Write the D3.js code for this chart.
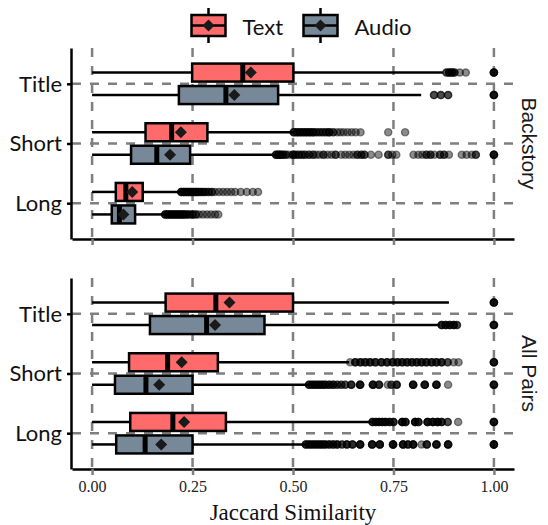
<!DOCTYPE html>
<html>
<head>
<meta charset="utf-8">
<script src="https://cdn.jsdelivr.net/npm/d3@7"></script>
<style>
    body { margin: 0; background: #fff; }
    .cat-label { font-family: Lato, "Noto Sans", sans-serif; font-size: 22px; fill: #111; }
    .x-label { font-family: "Liberation Serif", serif; font-size: 16px; fill: #222; }
    .strip { font-family: "Liberation Sans", sans-serif; font-size: 21px; fill: #1a1a1a; }
</style>
</head>
<body>
<div id="chart"></div>
<script>
const facets = ['Backstory', 'All Pairs'];
const categories = ['Title', 'Short', 'Long'];
const groups = ['Text', 'Audio'];
const groupColors = ['#ff6b6b', '#778899'];
const xTicks = [0, 0.25, 0.5, 0.75, 1];

// box stats per category (Title, Short, Long): [lowerWhisker, q1, median, q3, upperWhisker, mean]
const backstoryText = [
    [0, 0.249, 0.375, 0.501, 0.873, 0.395],
    [0, 0.133, 0.198, 0.287, 0.500, 0.221],
    [0, 0.059, 0.084, 0.126, 0.219, 0.100]
];
const backstoryAudio = [
    [0, 0.216, 0.333, 0.463, 0.819, 0.354],
    [0, 0.097, 0.161, 0.244, 0.456, 0.194],
    [0, 0.049, 0.068, 0.107, 0.179, 0.078]
];
const allPairsText = [
    [0, 0.183, 0.308, 0.500, 0.888, 0.342],
    [0, 0.092, 0.188, 0.313, 0.640, 0.223],
    [0, 0.095, 0.201, 0.333, 0.696, 0.229]
];
const allPairsAudio = [
    [0, 0.144, 0.285, 0.429, 0.866, 0.306],
    [0, 0.057, 0.134, 0.250, 0.538, 0.167],
    [0, 0.060, 0.132, 0.250, 0.530, 0.172]
];

// outliers per category: [value, number of overlapping points]
const backstoryTextOut = [
    [[0.882, 2], [0.889, 3], [0.896, 3], [0.902, 2], [0.915, 1], [0.93, 1], [1, 4]],
    [[0.502, 3], [0.51, 3], [0.518, 3], [0.526, 3], [0.534, 3], [0.542, 3], [0.55, 3], [0.558, 2],
     [0.566, 2], [0.574, 2], [0.582, 2], [0.59, 3], [0.60, 2], [0.61, 1], [0.618, 1], [0.626, 1],
     [0.636, 1], [0.646, 1], [0.656, 1], [0.668, 1], [0.737, 1], [0.779, 1]],
    [[0.222, 3], [0.228, 3], [0.234, 3], [0.24, 3], [0.246, 3], [0.252, 3], [0.258, 3], [0.264, 3],
     [0.27, 2], [0.276, 2], [0.282, 2], [0.29, 2], [0.298, 2], [0.306, 1], [0.316, 1], [0.326, 1],
     [0.336, 1], [0.346, 1], [0.356, 1], [0.37, 1], [0.385, 1], [0.4, 1], [0.413, 1]]
];
const backstoryAudioOut = [
    [[0.851, 2], [0.868, 2], [0.886, 2], [1, 4]],
    [[0.458, 3], [0.464, 3], [0.47, 3], [0.476, 2], [0.482, 2], [0.49, 1], [0.5, 3], [0.506, 2],
     [0.514, 2], [0.522, 2], [0.53, 2], [0.54, 2], [0.55, 2], [0.558, 1], [0.566, 1], [0.576, 2],
     [0.586, 1], [0.596, 1], [0.606, 2], [0.62, 1], [0.63, 1], [0.64, 1], [0.65, 1], [0.66, 2],
     [0.67, 2], [0.678, 2], [0.694, 1], [0.713, 1], [0.737, 2], [0.747, 1], [0.757, 1], [0.8, 1],
     [0.812, 1], [0.822, 1], [0.832, 2], [0.842, 2], [0.852, 1], [0.866, 2], [0.876, 2], [0.888, 1],
     [0.92, 1], [0.932, 1], [0.945, 1], [0.955, 2], [1, 4]],
    [[0.182, 3], [0.188, 3], [0.194, 3], [0.2, 3], [0.206, 3], [0.212, 3], [0.218, 3], [0.224, 3],
     [0.23, 3], [0.236, 2], [0.242, 2], [0.25, 2], [0.258, 2], [0.266, 1], [0.276, 1], [0.286, 1],
     [0.296, 1], [0.306, 1], [0.314, 1]]
];
const allPairsTextOut = [
    [[1, 4]],
    [[0.642, 1], [0.655, 3], [0.668, 3], [0.68, 3], [0.692, 3], [0.705, 3], [0.72, 3], [0.734, 3],
     [0.748, 3], [0.76, 3], [0.772, 3], [0.784, 3], [0.796, 3], [0.808, 3], [0.82, 3], [0.832, 3],
     [0.845, 3], [0.857, 3], [0.87, 3], [0.885, 2], [0.9, 1], [0.912, 1], [1, 4]],
    [[0.698, 3], [0.706, 3], [0.714, 3], [0.722, 3], [0.73, 3], [0.74, 3], [0.75, 3], [0.772, 4],
     [0.78, 3], [0.804, 4], [0.812, 3], [0.835, 4], [0.848, 4], [0.86, 4], [0.87, 3], [0.885, 2],
     [0.911, 1], [1, 4]]
];
const allPairsAudioOut = [
    [[0.87, 3], [0.88, 3], [0.89, 3], [0.9, 3], [0.908, 2], [1, 4]],
    [[0.54, 3], [0.548, 3], [0.556, 3], [0.564, 3], [0.572, 3], [0.58, 3], [0.59, 3], [0.6, 3],
     [0.61, 2], [0.62, 2], [0.63, 2], [0.645, 3], [0.667, 4], [0.699, 4], [0.714, 3], [0.736, 1],
     [0.745, 2], [0.758, 3], [0.799, 4], [0.828, 4], [0.857, 4], [0.886, 1], [1, 4]],
    [[0.532, 3], [0.54, 3], [0.548, 3], [0.556, 3], [0.564, 3], [0.572, 3], [0.58, 3], [0.59, 3],
     [0.6, 3], [0.61, 3], [0.622, 2], [0.634, 3], [0.648, 3], [0.667, 4], [0.697, 4], [0.716, 4],
     [0.749, 4], [0.774, 4], [0.786, 3], [0.799, 4], [0.82, 1], [0.833, 3], [0.857, 4], [0.886, 4], [1, 4]]
];

const facetStats = [[backstoryText, backstoryAudio], [allPairsText, allPairsAudio]];
const facetOutliers = [[backstoryTextOut, backstoryAudioOut], [allPairsTextOut, allPairsAudioOut]];

const width = 548, height = 525;
const panelTops = [48, 278];
const panelHeight = 191;
const gridColor = '#7f7f7f';

const svg = d3.select('#chart').append('svg')
    .attr('width', width)
    .attr('height', height);

const x = d3.scaleLinear().domain([-0.05, 1.05]).range([72, 514]);
const dodge = d3.scaleBand().domain(groups).range([-22.5, 22.5]);
const color = d3.scaleOrdinal().domain(groups).range(groupColors);
const boxH = 18;
const diamond = 'M0,-6L6,0L0,6L-6,0Z';

facets.forEach((facet, fi) => {
    const top = panelTops[fi];
    const y = d3.scalePoint().domain(categories).range([top, top + panelHeight]).padding(0.6);
    const panel = svg.append('g').attr('class', 'panel');

    // dashed grid
    panel.selectAll('.vgrid')
        .data(xTicks)
        .join('line')
        .attr('x1', d => x(d)).attr('x2', d => x(d))
        .attr('y1', top).attr('y2', top + panelHeight)
        .attr('stroke', gridColor).attr('stroke-width', 2.5)
        .attr('stroke-dasharray', '9,9');
    panel.selectAll('.hgrid')
        .data(categories)
        .join('line')
        .attr('x1', x.range()[0]).attr('x2', x.range()[1])
        .attr('y1', d => y(d)).attr('y2', d => y(d))
        .attr('stroke', gridColor).attr('stroke-width', 2.5)
        .attr('stroke-dasharray', '9,9');

    // axes
    const xAxisG = panel.append('g')
        .attr('transform', `translate(0,${top + panelHeight})`)
        .call(d3.axisBottom(x).tickValues(xTicks).tickSize(6).tickSizeOuter(0).tickPadding(6)
            .tickFormat(fi === facets.length - 1 ? d3.format('.2f') : ''));
    xAxisG.select('.domain').attr('stroke', '#000').attr('stroke-width', 2.5);
    xAxisG.selectAll('.tick line').attr('stroke', gridColor).attr('stroke-width', 2.5);
    xAxisG.selectAll('.tick text').attr('class', 'x-label').attr('font-family', null).attr('font-size', null);

    const yAxisG = panel.append('g')
        .attr('transform', 'translate(71,0)')
        .call(d3.axisLeft(y).tickSize(4).tickSizeOuter(0).tickPadding(5));
    yAxisG.select('.domain').attr('stroke', '#000').attr('stroke-width', 2.5);
    yAxisG.selectAll('.tick line').attr('stroke', '#000').attr('stroke-width', 2.5);
    yAxisG.selectAll('.tick text').attr('class', 'cat-label')
        .attr('font-family', null).attr('font-size', null).attr('dy', '0.33em');

    // boxes
    groups.forEach((g, gi) => {
        const stats = facetStats[fi][gi];
        const outs = facetOutliers[fi][gi];
        categories.forEach((cat, ci) => {
            const s = stats[ci];
            const cy = y(cat) + dodge(g) + dodge.bandwidth() / 2;
            const bg = panel.append('g');

            bg.selectAll('.whisker')
                .data([[s[0], s[1]], [s[3], s[4]]])
                .join('line')
                .attr('x1', d => x(d[0])).attr('x2', d => x(d[1]))
                .attr('y1', cy).attr('y2', cy)
                .attr('stroke', '#000').attr('stroke-width', 2.5);

            bg.append('rect')
                .attr('x', x(s[1])).attr('y', cy - boxH / 2)
                .attr('width', x(s[3]) - x(s[1])).attr('height', boxH)
                .attr('fill', color(g))
                .attr('stroke', '#000').attr('stroke-width', 2.5);

            bg.append('line')
                .attr('x1', x(s[2])).attr('x2', x(s[2]))
                .attr('y1', cy - boxH / 2).attr('y2', cy + boxH / 2)
                .attr('stroke', '#000').attr('stroke-width', 5);

            // expand each outlier by its overlap count
            const pts = outs[ci].flatMap(([v, n]) => d3.range(n).map(() => v));
            bg.selectAll('.outlier')
                .data(pts)
                .join('circle')
                .attr('cx', d => x(d)).attr('cy', cy)
                .attr('r', 3.6)
                .attr('fill', '#000').attr('fill-opacity', 0.45)
                .attr('stroke', '#000').attr('stroke-opacity', 0.45).attr('stroke-width', 1.4);

            bg.append('path')
                .attr('d', diamond)
                .attr('transform', `translate(${x(s[5])},${cy})`)
                .attr('fill', '#1a1a1a');
        });
    });

    // facet strip label
    svg.append('text')
        .attr('class', 'strip')
        .attr('transform', `translate(522,${top + panelHeight / 2}) rotate(90)`)
        .attr('text-anchor', 'middle')
        .text(facet);
});

// x axis title
svg.append('text')
    .attr('x', (x.range()[0] + x.range()[1]) / 2)
    .attr('y', 520)
    .attr('text-anchor', 'middle')
    .attr('font-family', '"Liberation Serif", serif')
    .attr('font-size', 23)
    .attr('fill', '#111')
    .text('Jaccard Similarity');

// legend
const legendX = [191.5, 303.5];
const legend = svg.append('g').attr('class', 'legend');
groups.forEach((g, gi) => {
    const lx = legendX[gi];
    const lg = legend.append('g').attr('transform', `translate(${lx},15)`);
    lg.append('line')
        .attr('x1', 17).attr('x2', 17).attr('y1', -7).attr('y2', 28)
        .attr('stroke', '#000').attr('stroke-width', 2.5);
    lg.append('rect')
        .attr('width', 34).attr('height', 21)
        .attr('fill', color(g)).attr('stroke', '#000').attr('stroke-width', 2.5);
    lg.append('line')
        .attr('x1', 0).attr('x2', 34).attr('y1', 10.5).attr('y2', 10.5)
        .attr('stroke', '#000').attr('stroke-width', 2.5);
    lg.append('path')
        .attr('d', diamond)
        .attr('transform', 'translate(17,10.5)')
        .attr('fill', '#1a1a1a');
    lg.append('text')
        .attr('class', 'cat-label')
        .attr('x', 51).attr('y', 19.5)
        .text(g);
});
</script>
</body>
</html>
